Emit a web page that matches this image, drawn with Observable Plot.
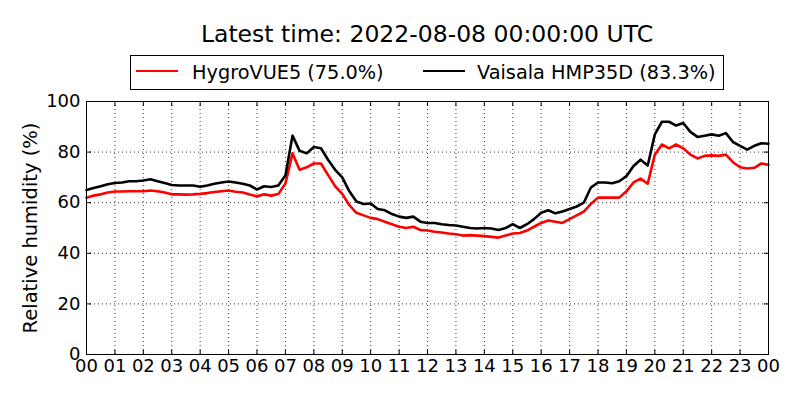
<!DOCTYPE html>
<html>
<head>
<meta charset="utf-8">
<script src="https://cdn.jsdelivr.net/npm/d3@7"></script>
<script src="https://cdn.jsdelivr.net/npm/@observablehq/plot@0.6"></script>
<style>
  html, body { margin: 0; padding: 0; background: white; }
  #page { position: relative; width: 800px; height: 400px; font-family: "DejaVu Sans", sans-serif; color: black; }
  #title { position: absolute; left: 86px; width: 682px; top: 20px; text-align: center; font-size: 23.5px; line-height: 28px; white-space: nowrap; }
  #legend { position: absolute; left: 130px; top: 55px; width: 594px; height: 35px; box-sizing: border-box; border: 1px solid black; background: white; }
  .sw { position: absolute; top: 14px; width: 42px; height: 0; border-top: 2.5px solid; }
  .lt { position: absolute; top: 1px; font-size: 19.3px; line-height: 31px; white-space: nowrap; }
  #chart { position: absolute; left: 0; top: 90px; }
</style>
</head>
<body>
<div id="page">
  <div id="title"></div>
  <div id="legend"></div>
  <div id="chart"></div>
</div>
<script>
// ---- data ----
const titleText = "Latest time: 2022-08-08 00:00:00 UTC";
const seriesNames = ["HygroVUE5 (75.0%)", "Vaisala HMP35D (83.3%)"];
const seriesColors = ["#ff0000", "#000000"];
const yLabel = "Relative humidity (%)";

// hours since 2022-08-07 00:00 UTC
const hours = [0,0.25,0.5,0.75,1,1.25,1.5,1.75,2,2.25,2.5,2.75,3,3.25,3.5,3.75,4,4.25,4.5,4.75,5,5.25,5.5,5.75,6,6.25,6.5,6.75,7,7.25,7.5,7.75,8,8.25,8.5,8.75,9,9.25,9.5,9.75,10,10.25,10.5,10.75,11,11.25,11.5,11.75,12,12.25,12.5,12.75,13,13.25,13.5,13.75,14,14.25,14.5,14.75,15,15.25,15.5,15.75,16,16.25,16.5,16.75,17,17.25,17.5,17.75,18,18.25,18.5,18.75,19,19.25,19.5,19.75,20,20.25,20.5,20.75,21,21.25,21.5,21.75,22,22.25,22.5,22.75,23,23.25,23.5,23.75,24];

const hygroVUE5 = [62,62.8,63.3,64,64.4,64.4,64.5,64.5,64.5,64.8,64.5,64,63.3,63.3,63.2,63.3,63.5,63.8,64.2,64.5,64.8,64.3,64,63.2,62.5,63.3,62.8,63.4,67.6,79.5,73,74,75.5,75.5,71,66.5,63.5,59,56,55,54,53.5,52.5,51.5,50.5,50,50.5,49.2,49,48.5,48.2,47.8,47.5,47,47.2,47,46.8,46.5,46.2,47,47.8,48,49,50.5,52,53,52.5,52,53.5,55,56.5,59.5,62,62,62,62,64.5,68,69.5,67.5,79,83,81.5,83,81.5,79,77.5,78.5,78.7,78.5,79,76,74,73.5,73.8,75.5,75];

const vaisalaHMP35D = [65,65.8,66.5,67.3,67.8,68,68.5,68.5,68.8,69.3,68.5,67.8,67,66.8,66.8,66.8,66.3,66.8,67.5,68,68.4,68,67.5,66.8,65.2,66.5,66.2,66.8,70.8,86.5,80.5,79.5,82,81.5,77,73,70,64.5,60.5,59.5,59.7,57.5,57,55.5,54.5,54,54.5,52.5,52,52,51.5,51.2,51,50.5,50,49.8,50,49.8,49.2,50,51.5,50,51.5,53.5,56,57,55.8,56.5,57.5,58.5,60,66,68,68,67.7,68.5,70.5,74.5,77,74.7,87,92,92,90.5,91.5,88,86,86.5,87,86.5,87.5,84,82.5,81,82.5,83.5,83.3];

const xTicks = [0,1,2,3,4,5,6,7,8,9,10,11,12,13,14,15,16,17,18,19,20,21,22,23,24];
const xTickLabels = ["00","01","02","03","04","05","06","07","08","09","10","11","12","13","14","15","16","17","18","19","20","21","22","23","00"];
const yTicks = [0,20,40,60,80,100];

// ---- title & legend (HTML above the SVG) ----
document.getElementById("title").textContent = titleText;
const legend = document.getElementById("legend");
const legendSwatchX = [5, 292];
const legendTextX = [61, 346];
seriesNames.forEach((name, i) => {
  const sw = document.createElement("div");
  sw.className = "sw";
  sw.style.left = legendSwatchX[i] + "px";
  sw.style.borderTopColor = seriesColors[i];
  legend.appendChild(sw);
  const t = document.createElement("div");
  t.className = "lt";
  t.style.left = legendTextX[i] + "px";
  t.textContent = name;
  legend.appendChild(t);
});

// ---- chart ----
const rows = hours.map((h, i) => ({h, hygro: hygroVUE5[i], vais: vaisalaHMP35D[i]}));
const gridStyle = {stroke: "black", strokeOpacity: 1, strokeWidth: 0.8, strokeDasharray: "1,3"};
const tickStyle = {length: 4, anchor: "start", r: 0, stroke: "black", strokeWidth: 1};

const chart = Plot.plot({
  width: 800,
  height: 310,
  marginLeft: 86,
  marginRight: 32,
  marginTop: 11,
  marginBottom: 46,
  style: {fontFamily: "DejaVu Sans, sans-serif", fontSize: "18px", color: "black", background: "white", overflow: "visible"},
  x: {domain: [0, 24], ticks: xTicks},
  y: {domain: [0, 100], ticks: yTicks},
  marks: [
    Plot.gridX(xTicks, gridStyle),
    Plot.gridY(yTicks, gridStyle),
    Plot.lineY(rows, {x: "h", y: "hygro", stroke: seriesColors[0], strokeWidth: 2.6}),
    Plot.lineY(rows, {x: "h", y: "vais", stroke: seriesColors[1], strokeWidth: 2.6}),
    Plot.frame({stroke: "black", strokeWidth: 1}),
    Plot.vector(xTicks, {x: d => d, frameAnchor: "bottom", rotate: 0, ...tickStyle}),
    Plot.vector(xTicks, {x: d => d, frameAnchor: "top", rotate: 180, ...tickStyle}),
    Plot.vector(yTicks, {y: d => d, frameAnchor: "left", rotate: 90, ...tickStyle}),
    Plot.vector(yTicks, {y: d => d, frameAnchor: "right", rotate: -90, ...tickStyle}),
    Plot.axisX(xTicks, {tickSize: 0, tickPadding: 5, fontSize: 18, label: null,
      tickFormat: d => xTickLabels[xTicks.indexOf(d)]}),
    Plot.axisY(yTicks, {tickSize: 0, tickPadding: 6, fontSize: 18, label: null}),
    Plot.text([yLabel], {frameAnchor: "left", dx: -56, rotate: -90, textAnchor: "middle", fontSize: 19.5, fill: "black"})
  ]
});
document.getElementById("chart").appendChild(chart);
</script>
</body>
</html>
